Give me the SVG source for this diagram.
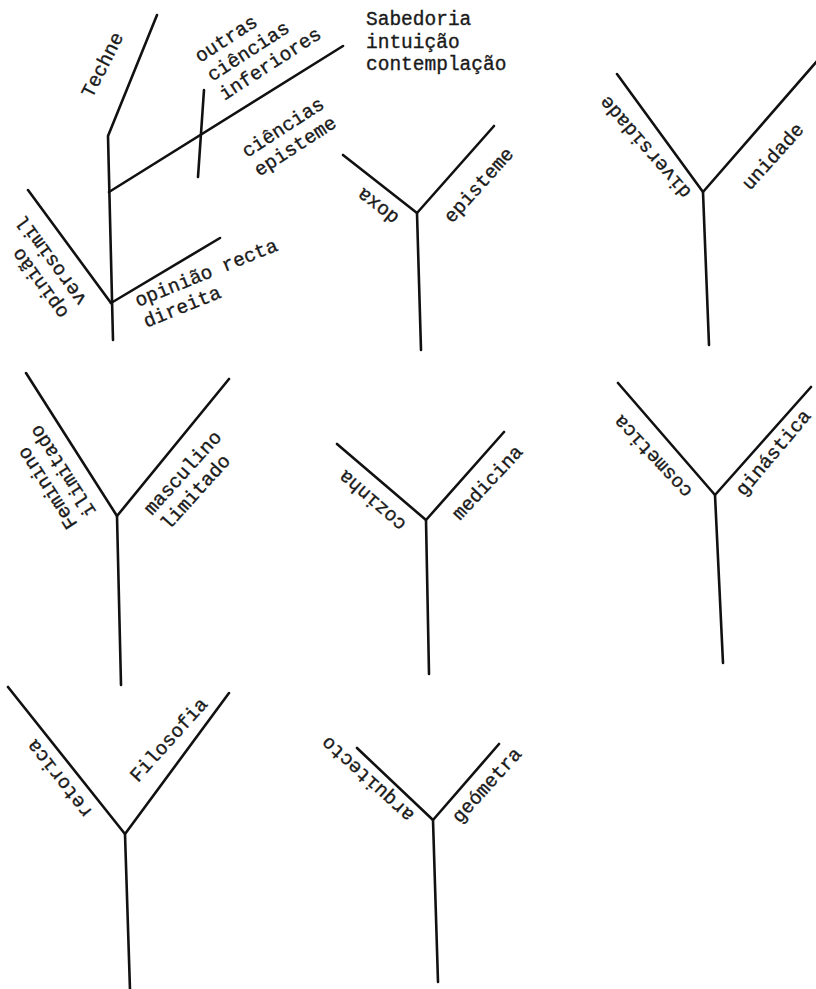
<svg xmlns="http://www.w3.org/2000/svg" width="816" height="989" viewBox="0 0 816 989">
<style>
  .ln { stroke: #111; stroke-width: 2.6; fill: none; stroke-linecap: round; stroke-linejoin: round; }
  .t { font-family: "Liberation Mono", "Courier New", monospace; font-size: 19.5px; fill: #1a1a1a; stroke: #1a1a1a; stroke-width: 0.35; }
</style>
<rect width="816" height="989" fill="#ffffff"/>

<g id="tree-main">
  <g id="connectors-main">
    <polyline class="ln" points="157,15 108,136 113,340"/>
    <line class="ln" x1="109" y1="192" x2="343" y2="46"/>
    <line class="ln" x1="204" y1="90" x2="198" y2="177"/>
    <line class="ln" x1="28" y1="190" x2="111" y2="303"/>
    <line class="ln" x1="111" y1="303" x2="220" y2="238"/>
  </g>
  <text class="t" transform="translate(92,99) rotate(-63)">Techne</text>
  <text class="t" transform="translate(200,63) rotate(-33)"><tspan x="0" y="0">outras</tspan><tspan x="0" y="22.5">ciências</tspan><tspan x="0" y="45">inferiores</tspan></text>
  <text class="t" x="366" y="25"><tspan x="366" y="25">Sabedoria</tspan><tspan x="366" y="47.5">intuição</tspan><tspan x="366" y="70">contemplação</tspan></text>
  <text class="t" transform="translate(247,158) rotate(-33)"><tspan x="0" y="0">ciências</tspan><tspan x="0" y="22.5">episteme</tspan></text>
  <text class="t" transform="translate(69,313) rotate(-126)"><tspan x="0" y="0">opinião</tspan><tspan x="0" y="22.5">verosimil</tspan></text>
  <text class="t" transform="translate(138,307) rotate(-22)"><tspan x="0" y="0">opinião recta</tspan><tspan x="0" y="22.5">direita</tspan></text>
</g>

<g id="y-doxa">
  <g id="connectors-doxa">
    <polyline class="ln" points="343,155 417,213 494,126"/>
    <line class="ln" x1="417" y1="213" x2="421" y2="350"/>
  </g>
  <text class="t" transform="translate(400,216) rotate(-142)">doxa</text>
  <text class="t" transform="translate(452,224) rotate(-48)">episteme</text>
</g>

<g id="y-unidade">
  <g id="connectors-unidade">
    <polyline class="ln" points="617,74 703,192 818,60"/>
    <line class="ln" x1="703" y1="192" x2="709" y2="345"/>
  </g>
  <text class="t" transform="translate(692,192) rotate(-131)">diversidade</text>
  <text class="t" transform="translate(750,191) rotate(-48)">unidade</text>
</g>

<g id="y-feminino">
  <g id="connectors-feminino">
    <polyline class="ln" points="26,373 117,516 229,379"/>
    <line class="ln" x1="117" y1="516" x2="121" y2="685"/>
  </g>
  <text class="t" transform="translate(78,524) rotate(-123)"><tspan x="0" y="0">Feminino</tspan><tspan x="0" y="22.5">ilimitado</tspan></text>
  <text class="t" transform="translate(152,516) rotate(-48)"><tspan x="0" y="0">masculino</tspan><tspan x="0" y="22.5">limitado</tspan></text>
</g>

<g id="y-cozinha">
  <g id="connectors-cozinha">
    <polyline class="ln" points="337,444 426,520 504,432"/>
    <line class="ln" x1="426" y1="520" x2="429" y2="674"/>
  </g>
  <text class="t" transform="translate(407,523) rotate(-139)">cozinha</text>
  <text class="t" transform="translate(460,521) rotate(-47)">medicina</text>
</g>

<g id="y-cosmetica">
  <g id="connectors-cosmetica">
    <polyline class="ln" points="618,383 715,495 811,387"/>
    <line class="ln" x1="715" y1="495" x2="723" y2="663"/>
  </g>
  <text class="t" transform="translate(693,491) rotate(-133)">cosmetica</text>
  <text class="t" transform="translate(744,497) rotate(-50)">ginástica</text>
</g>

<g id="y-filosofia">
  <g id="connectors-filosofia">
    <polyline class="ln" points="8,687 125,834 229,693"/>
    <line class="ln" x1="125" y1="834" x2="130" y2="990"/>
  </g>
  <text class="t" transform="translate(93,812) rotate(-128)">retorica</text>
  <text class="t" transform="translate(138,783) rotate(-48)">Filosofia</text>
</g>

<g id="y-geometra">
  <g id="connectors-geometra">
    <polyline class="ln" points="357,748 433,820 499,744"/>
    <line class="ln" x1="433" y1="820" x2="438" y2="982"/>
  </g>
  <text class="t" transform="translate(415,814) rotate(-138)">arquitecto</text>
  <text class="t" transform="translate(460,824) rotate(-48)">geómetra</text>
</g>
</svg>
